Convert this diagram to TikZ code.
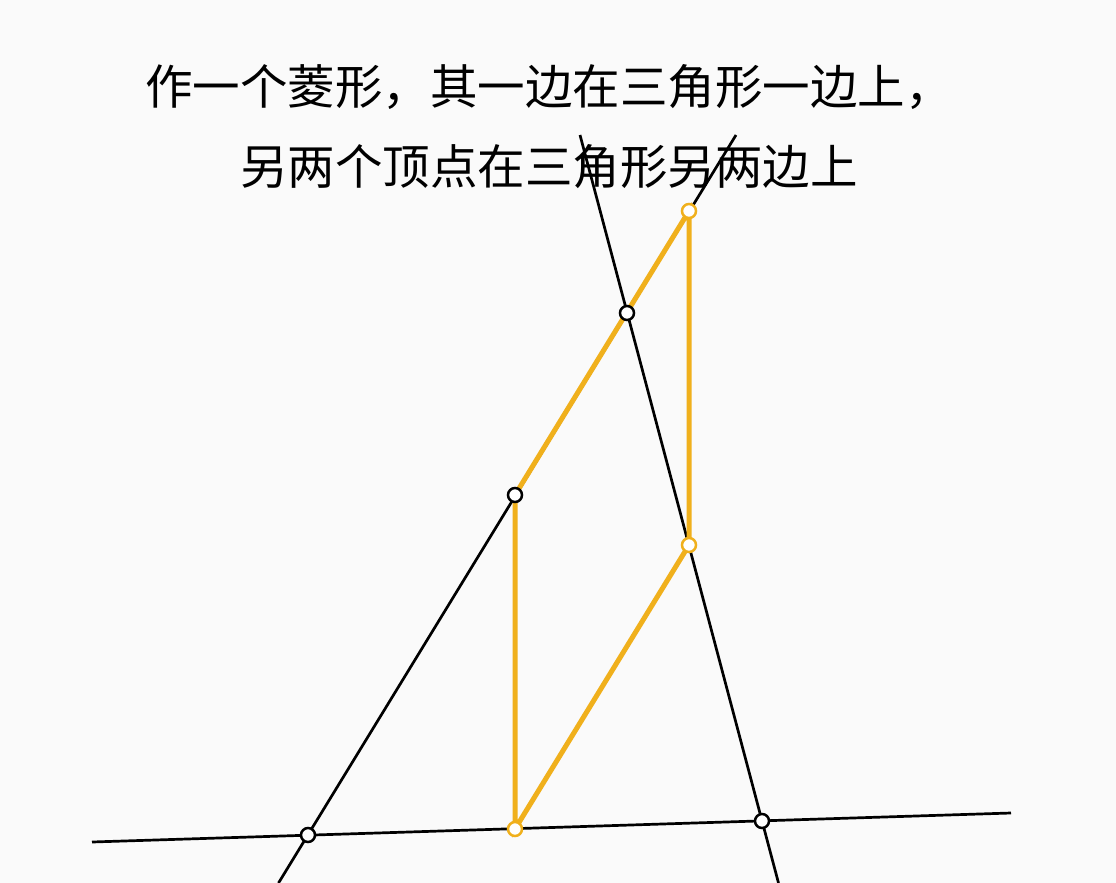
\documentclass[tikz,border=0pt]{standalone}
\usepackage{fontspec}
\newfontfamily\cjk{Noto Sans CJK SC}
\definecolor{bgcol}{RGB}{250,250,250}
\definecolor{rhombcol}{RGB}{240,176,28}
\tikzset{
    pt/.style={circle, draw=black, fill=white, line width=2.5pt, inner sep=0pt, minimum size=14pt},
    opt/.style={pt, draw=rhombcol}
}
\begin{document}
\begin{tikzpicture}[x=1pt, y=-1pt]

            % the frame
            \fill[bgcol] (0, 0) rectangle (1116, 883);
            \useasboundingbox (0, 0) rectangle (1116, 883);

            % the title
            \node[align=center, font=\cjk\fontsize{47.5}{80}\selectfont] (title) at (549, 127)
                {作一个菱形，其一边在三角形一边上，\\另两个顶点在三角形另两边上};

            % the triangle
            \coordinate (A) at (308, 835);
            \coordinate (B) at (762, 821);
            \coordinate (C) at (627, 313);
            \coordinate (baseL) at (92, 842);
            \coordinate (baseR) at (1011, 813);
            \coordinate (acTop) at (736, 135);
            \coordinate (acBot) at (278.5, 883);
            \coordinate (bcTop) at (580, 135);
            \coordinate (bcBot) at (778.5, 883);

            \draw[line width=2.7pt] (baseL) -- (baseR);
            \draw[line width=2.7pt] (acBot) -- (acTop);
            \draw[line width=2.7pt] (bcBot) -- (bcTop);

            % the rhombus
            \coordinate (P) at (515, 495);
            \coordinate (Q) at (515, 829);
            \coordinate (R) at (689, 545);
            \coordinate (S) at (689, 211);

            \draw[rhombcol, line width=5pt] (P) -- (Q) -- (R) -- (S) -- cycle;

            % points
            \foreach \p in {A, B, C, P} {
                \node[pt] (pt\p) at (\p) {};
            }
            \foreach \p in {Q, R, S} {
                \node[opt] (pt\p) at (\p) {};
            }
        \end{tikzpicture}
\end{document}
